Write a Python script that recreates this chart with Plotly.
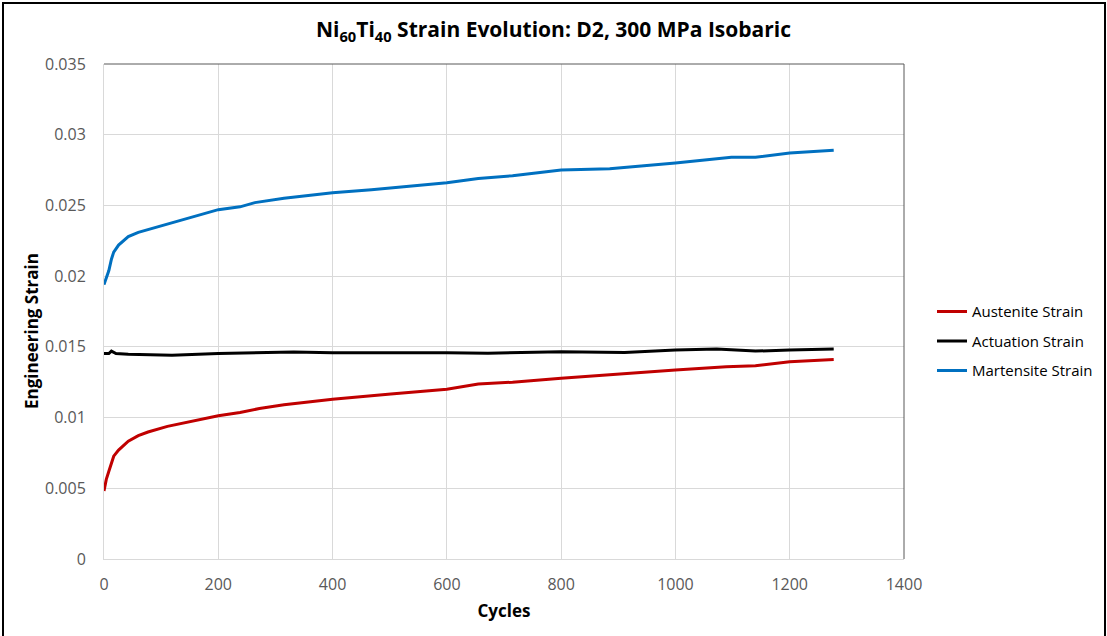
import plotly.graph_objects as go

# Strain values read at selected cycle counts
cycles_mart = [0, 4, 8.5, 13, 17, 25.5, 42.5, 60, 77, 111, 145, 200, 238, 264, 315, 400, 468,
               600, 655, 715, 800, 885, 1000, 1098, 1140, 1200, 1277]
martensite = [0.0194, 0.0199, 0.0204, 0.0212, 0.0217, 0.0222, 0.0228, 0.0231, 0.0233, 0.0237,
              0.0241, 0.0247, 0.0249, 0.0252, 0.0255, 0.0259, 0.0261, 0.0266, 0.0269, 0.0271,
              0.0275, 0.0276, 0.0280, 0.0284, 0.0284, 0.0287, 0.0289]

cycles_act = [0, 8.5, 13, 21, 42.5, 119, 200, 332, 400, 502, 600, 672, 800, 911, 1000, 1072,
              1140, 1200, 1277]
actuation = [0.01453, 0.01453, 0.01470, 0.01453, 0.01448, 0.01441, 0.01453, 0.01463, 0.01458,
             0.01460, 0.01458, 0.01455, 0.01465, 0.01460, 0.01477, 0.01484, 0.01470, 0.01477,
             0.01484]

cycles_aus = [0, 4, 8.5, 17, 25.5, 42.5, 60, 77, 111, 145, 200, 238, 272, 315, 400, 502, 600,
              655, 715, 800, 911, 1000, 1089, 1140, 1200, 1277]
austenite = [0.00481, 0.00563, 0.0062, 0.00727, 0.0077, 0.00833, 0.00872, 0.00898, 0.00938,
             0.00968, 0.01013, 0.01036, 0.01064, 0.0109, 0.0113, 0.01167, 0.0120, 0.01238,
             0.0125, 0.01278, 0.01313, 0.01336, 0.0136, 0.01367, 0.01395, 0.01411]

x_ticks = [0, 200, 400, 600, 800, 1000, 1200, 1400]
y_ticks = [0, 0.005, 0.01, 0.015, 0.02, 0.025, 0.03, 0.035]
y_tick_text = ["0", "0.005", "0.01", "0.015", "0.02", "0.025", "0.03", "0.035"]

FONT = "Open Sans"
GRID = "#d9d9d9"

fig = go.Figure()
fig.add_trace(go.Scatter(x=cycles_aus, y=austenite, mode="lines", name="Austenite Strain",
                         legendgroup="a", line=dict(color="#C00000", width=3)))
fig.add_trace(go.Scatter(x=cycles_act, y=actuation, mode="lines", name="Actuation Strain",
                         legendgroup="b", line=dict(color="#000000", width=3)))
fig.add_trace(go.Scatter(x=cycles_mart, y=martensite, mode="lines", name="Martensite Strain",
                         legendgroup="c", line=dict(color="#0070C0", width=3)))

fig.update_layout(
    width=1107, height=636,
    margin=dict(l=104, r=203, t=64, b=77, autoexpand=False),
    paper_bgcolor="white", plot_bgcolor="white",
    font=dict(family=FONT, color="#595959", size=16),
    title=dict(text="<b>Ni<sub>60</sub>Ti<sub>40</sub> Strain Evolution: D2, 300 MPa Isobaric</b>",
               x=0.5, xanchor="center", xref="container", y=0.953, yanchor="middle",
               font=dict(family=FONT, size=21, color="#000000")),
    legend=dict(x=1.035, xanchor="left", y=0.44, yanchor="middle",
                font=dict(family=FONT, size=15, color="#000000"),
                itemwidth=30, tracegroupgap=7, bgcolor="rgba(0,0,0,0)"),
    showlegend=True,
)

fig.update_xaxes(range=[0, 1400], tickvals=x_ticks, ticks="", showgrid=True, gridcolor=GRID,
                 gridwidth=1, zeroline=False, showline=True, linecolor=GRID, linewidth=1,
                 ticklabelstandoff=11,
                 title=dict(text="<b>Cycles</b>", standoff=10,
                            font=dict(family=FONT, size=17, color="#000000")))
fig.update_yaxes(range=[0, 0.035], tickvals=y_ticks, ticktext=y_tick_text, ticks="",
                 showgrid=True, gridcolor=GRID, gridwidth=1, zeroline=False, showline=True,
                 linecolor=GRID, linewidth=1, ticklabelstandoff=14)

# vertical axis title, placed as a rotated annotation
fig.add_annotation(text="<b>Engineering Strain</b>", textangle=-90, showarrow=False,
                   xref="paper", yref="paper", x=(32 - 104) / 800, y=(559 - 331) / 495,
                   xanchor="center", yanchor="middle",
                   font=dict(family=FONT, size=17, color="#000000"))

# darker top and right edges of the plotting area
fig.add_shape(type="line", xref="paper", yref="paper", x0=0, x1=1, y0=1, y1=1,
              line=dict(color="#595959", width=1))
fig.add_shape(type="line", xref="paper", yref="paper", x0=1, x1=1, y0=0, y1=1,
              line=dict(color="#595959", width=1))
# outer chart frame
fig.add_shape(type="rect", xref="paper", yref="paper",
              x0=(3 - 104) / 800, x1=(1105 - 104) / 800,
              y0=(559 - 660) / 495, y1=(559 - 3) / 495,
              line=dict(color="#000000", width=2), layer="below")

fig.write_html("out.html")
